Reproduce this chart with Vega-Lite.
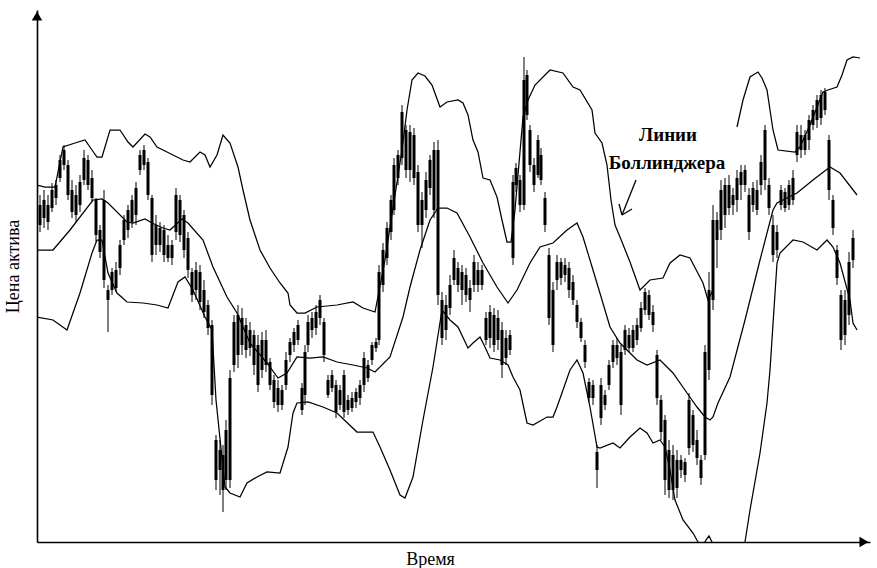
{
  "$schema": "https://vega.github.io/schema/vega-lite/v6.json",
  "width": 833,
  "height": 532,
  "autosize": {"type": "none"},
  "padding": {"left": 37, "top": 10, "right": 7, "bottom": 26},
  "background": "white",
  "config": {
    "view": {"stroke": null},
    "axis": {"grid": false, "labels": false, "ticks": false, "domainColor": "black", "domainWidth": 1.6, "titleFont": "'Liberation Serif', 'Times New Roman', serif", "titleFontSize": 18, "titleFontWeight": "normal", "titleColor": "black"}
  },
  "datasets": {
    "candles": [
      {"t":3,"h":347,"l":310,"o":317,"c":337},{"t":7,"h":352,"l":314,"o":324,"c":342},{"t":11,"h":347,"l":312,"o":337,"c":320},{"t":15,"h":359,"l":330,"o":334,"c":352},{"t":19,"h":362,"l":337,"o":344,"c":357},{"t":23,"h":387,"l":360,"o":364,"c":382},{"t":27,"h":397,"l":372,"o":377,"c":392},{"t":31,"h":382,"l":342,"o":377,"c":347},{"t":35,"h":362,"l":324,"o":352,"c":330},{"t":39,"h":357,"l":320,"o":327,"c":347},{"t":43,"h":367,"l":330,"o":337,"c":360},{"t":47,"h":392,"l":357,"o":362,"c":384},{"t":51,"h":387,"l":352,"o":382,"c":357},{"t":55,"h":372,"l":340,"o":364,"c":344},{"t":59,"h":344,"l":300,"o":342,"c":307},{"t":63,"h":317,"l":284,"o":312,"c":290},{"t":67,"h":352,"l":254,"o":342,"c":262},{"t":71,"h":257,"l":210,"o":252,"c":242},{"t":75,"h":274,"l":247,"o":252,"c":270},{"t":79,"h":280,"l":250,"o":272,"c":254},{"t":83,"h":302,"l":267,"o":274,"c":297},{"t":87,"h":327,"l":297,"o":302,"c":322},{"t":91,"h":337,"l":304,"o":312,"c":332},{"t":95,"h":347,"l":314,"o":320,"c":342},{"t":99,"h":360,"l":317,"o":327,"c":354},{"t":103,"h":392,"l":367,"o":372,"c":387},{"t":107,"h":397,"l":372,"o":392,"c":377},{"t":111,"h":384,"l":342,"o":380,"c":347},{"t":115,"h":347,"l":280,"o":344,"c":287},{"t":119,"h":327,"l":287,"o":317,"c":297},{"t":123,"h":320,"l":290,"o":297,"c":314},{"t":127,"h":317,"l":280,"o":312,"c":287},{"t":131,"h":307,"l":280,"o":297,"c":284},{"t":135,"h":302,"l":277,"o":284,"c":297},{"t":139,"h":354,"l":302,"o":310,"c":347},{"t":143,"h":347,"l":300,"o":342,"c":307},{"t":147,"h":332,"l":284,"o":327,"c":292},{"t":151,"h":310,"l":264,"o":304,"c":272},{"t":155,"h":274,"l":240,"o":270,"c":247},{"t":159,"h":280,"l":242,"o":252,"c":272},{"t":163,"h":277,"l":232,"o":270,"c":240},{"t":167,"h":262,"l":224,"o":252,"c":230},{"t":171,"h":242,"l":207,"o":237,"c":214},{"t":175,"h":222,"l":137,"o":217,"c":147},{"t":179,"h":107,"l":52,"o":102,"c":62},{"t":183,"h":102,"l":47,"o":72,"c":92},{"t":186,"h":97,"l":30,"o":87,"c":52},{"t":189,"h":122,"l":52,"o":62,"c":112},{"t":193,"h":172,"l":54,"o":62,"c":164},{"t":197,"h":227,"l":170,"o":177,"c":220},{"t":201,"h":237,"l":174,"o":227,"c":187},{"t":205,"h":234,"l":187,"o":197,"c":224},{"t":209,"h":224,"l":184,"o":217,"c":192},{"t":213,"h":220,"l":186,"o":194,"c":212},{"t":217,"h":212,"l":167,"o":207,"c":177},{"t":221,"h":207,"l":150,"o":197,"c":157},{"t":225,"h":210,"l":164,"o":172,"c":202},{"t":229,"h":212,"l":170,"o":202,"c":177},{"t":233,"h":184,"l":152,"o":180,"c":157},{"t":237,"h":167,"l":134,"o":162,"c":140},{"t":241,"h":162,"l":130,"o":137,"c":154},{"t":245,"h":157,"l":132,"o":152,"c":137},{"t":249,"h":190,"l":152,"o":157,"c":182},{"t":253,"h":204,"l":180,"o":187,"c":200},{"t":257,"h":214,"l":190,"o":197,"c":210},{"t":261,"h":222,"l":197,"o":217,"c":202},{"t":265,"h":159,"l":127,"o":154,"c":132},{"t":268,"h":197,"l":137,"o":147,"c":190},{"t":271,"h":227,"l":190,"o":197,"c":220},{"t":275,"h":230,"l":204,"o":212,"c":224},{"t":279,"h":237,"l":207,"o":230,"c":214},{"t":283,"h":247,"l":217,"o":224,"c":242},{"t":287,"h":224,"l":180,"o":220,"c":187},{"t":291,"h":167,"l":144,"o":162,"c":147},{"t":295,"h":172,"l":150,"o":154,"c":167},{"t":299,"h":162,"l":124,"o":157,"c":130},{"t":303,"h":157,"l":132,"o":137,"c":152},{"t":307,"h":172,"l":124,"o":167,"c":130},{"t":311,"h":147,"l":127,"o":132,"c":142},{"t":315,"h":150,"l":130,"o":144,"c":134},{"t":319,"h":154,"l":134,"o":140,"c":150},{"t":323,"h":162,"l":137,"o":144,"c":157},{"t":327,"h":190,"l":150,"o":157,"c":184},{"t":331,"h":182,"l":160,"o":164,"c":177},{"t":335,"h":200,"l":177,"o":182,"c":197},{"t":339,"h":204,"l":190,"o":194,"c":200},{"t":342,"h":277,"l":197,"o":202,"c":270},{"t":346,"h":299,"l":250,"o":257,"c":292},{"t":350,"h":320,"l":277,"o":284,"c":314},{"t":354,"h":347,"l":302,"o":310,"c":342},{"t":357,"h":384,"l":327,"o":332,"c":377},{"t":361,"h":392,"l":357,"o":364,"c":387},{"t":365,"h":437,"l":377,"o":384,"c":430},{"t":369,"h":417,"l":364,"o":412,"c":372},{"t":373,"h":417,"l":360,"o":372,"c":410},{"t":377,"h":414,"l":357,"o":407,"c":364},{"t":381,"h":377,"l":310,"o":370,"c":317},{"t":385,"h":350,"l":294,"o":317,"c":342},{"t":389,"h":370,"l":324,"o":332,"c":362},{"t":393,"h":387,"l":347,"o":382,"c":354},{"t":397,"h":400,"l":324,"o":392,"c":332},{"t":401,"h":402,"l":237,"o":392,"c":247},{"t":405,"h":250,"l":197,"o":242,"c":204},{"t":409,"h":247,"l":202,"o":212,"c":237},{"t":413,"h":267,"l":227,"o":257,"c":234},{"t":417,"h":292,"l":257,"o":262,"c":284},{"t":421,"h":280,"l":250,"o":274,"c":257},{"t":425,"h":277,"l":237,"o":252,"c":270},{"t":429,"h":274,"l":240,"o":267,"c":247},{"t":433,"h":262,"l":230,"o":242,"c":254},{"t":437,"h":287,"l":250,"o":257,"c":280},{"t":441,"h":280,"l":250,"o":272,"c":257},{"t":445,"h":277,"l":252,"o":257,"c":272},{"t":449,"h":230,"l":197,"o":224,"c":202},{"t":453,"h":237,"l":194,"o":204,"c":230},{"t":457,"h":234,"l":190,"o":227,"c":197},{"t":461,"h":232,"l":192,"o":202,"c":224},{"t":465,"h":220,"l":164,"o":212,"c":177},{"t":469,"h":212,"l":177,"o":184,"c":204},{"t":473,"h":212,"l":187,"o":207,"c":192},{"t":476,"h":367,"l":277,"o":284,"c":360},{"t":479,"h":379,"l":350,"o":357,"c":374},{"t":483,"h":367,"l":330,"o":362,"c":337},{"t":487,"h":485,"l":332,"o":337,"c":462},{"t":490,"h":472,"l":422,"o":467,"c":427},{"t":493,"h":417,"l":370,"o":412,"c":377},{"t":497,"h":384,"l":350,"o":377,"c":357},{"t":501,"h":407,"l":364,"o":367,"c":402},{"t":504,"h":394,"l":357,"o":387,"c":362},{"t":508,"h":350,"l":310,"o":344,"c":317},{"t":512,"h":294,"l":217,"o":287,"c":224},{"t":516,"h":260,"l":190,"o":252,"c":197},{"t":520,"h":287,"l":252,"o":262,"c":280},{"t":524,"h":284,"l":257,"o":280,"c":264},{"t":528,"h":284,"l":260,"o":267,"c":277},{"t":532,"h":280,"l":244,"o":274,"c":252},{"t":536,"h":267,"l":237,"o":260,"c":242},{"t":540,"h":242,"l":214,"o":237,"c":220},{"t":544,"h":224,"l":200,"o":220,"c":204},{"t":548,"h":202,"l":174,"o":197,"c":180},{"t":552,"h":164,"l":140,"o":160,"c":144},{"t":556,"h":162,"l":137,"o":144,"c":157},{"t":560,"h":97,"l":54,"o":90,"c":72},{"t":564,"h":164,"l":117,"o":124,"c":157},{"t":568,"h":152,"l":132,"o":147,"c":137},{"t":572,"h":182,"l":152,"o":157,"c":177},{"t":576,"h":202,"l":174,"o":180,"c":197},{"t":580,"h":204,"l":177,"o":197,"c":184},{"t":584,"h":197,"l":127,"o":190,"c":137},{"t":588,"h":217,"l":187,"o":192,"c":212},{"t":592,"h":214,"l":190,"o":207,"c":194},{"t":596,"h":217,"l":190,"o":194,"c":212},{"t":600,"h":224,"l":197,"o":217,"c":202},{"t":604,"h":240,"l":210,"o":214,"c":234},{"t":608,"h":254,"l":227,"o":232,"c":250},{"t":612,"h":252,"l":222,"o":247,"c":227},{"t":616,"h":237,"l":210,"o":230,"c":217},{"t":620,"h":192,"l":137,"o":187,"c":144},{"t":624,"h":147,"l":102,"o":142,"c":110},{"t":628,"h":127,"l":47,"o":122,"c":62},{"t":632,"h":102,"l":44,"o":92,"c":52},{"t":636,"h":97,"l":42,"o":52,"c":87},{"t":640,"h":92,"l":44,"o":82,"c":54},{"t":644,"h":87,"l":64,"o":72,"c":82},{"t":648,"h":84,"l":60,"o":80,"c":67},{"t":652,"h":149,"l":87,"o":94,"c":142},{"t":656,"h":132,"l":90,"o":127,"c":97},{"t":660,"h":112,"l":77,"o":102,"c":84},{"t":664,"h":87,"l":57,"o":82,"c":64},{"t":668,"h":197,"l":82,"o":87,"c":190},{"t":672,"h":270,"l":162,"o":172,"c":252},{"t":676,"h":337,"l":232,"o":242,"c":322},{"t":680,"h":330,"l":274,"o":302,"c":322},{"t":684,"h":362,"l":302,"o":312,"c":352},{"t":688,"h":364,"l":314,"o":327,"c":357},{"t":692,"h":367,"l":327,"o":357,"c":334},{"t":696,"h":354,"l":327,"o":337,"c":347},{"t":700,"h":372,"l":330,"o":342,"c":364},{"t":704,"h":377,"l":342,"o":357,"c":370},{"t":708,"h":377,"l":350,"o":372,"c":357},{"t":712,"h":354,"l":302,"o":347,"c":310},{"t":716,"h":360,"l":330,"o":337,"c":354},{"t":720,"h":362,"l":327,"o":352,"c":332},{"t":724,"h":387,"l":347,"o":357,"c":380},{"t":728,"h":417,"l":352,"o":362,"c":412},{"t":732,"h":364,"l":327,"o":357,"c":334},{"t":736,"h":327,"l":280,"o":317,"c":287},{"t":740,"h":317,"l":284,"o":292,"c":310},{"t":744,"h":357,"l":332,"o":337,"c":352},{"t":748,"h":354,"l":330,"o":350,"c":334},{"t":752,"h":362,"l":332,"o":337,"c":357},{"t":756,"h":372,"l":337,"o":364,"c":342},{"t":760,"h":417,"l":380,"o":387,"c":410},{"t":764,"h":417,"l":384,"o":407,"c":392},{"t":768,"h":412,"l":387,"o":392,"c":407},{"t":772,"h":427,"l":392,"o":402,"c":422},{"t":776,"h":437,"l":412,"o":417,"c":432},{"t":780,"h":447,"l":414,"o":422,"c":442},{"t":784,"h":452,"l":417,"o":447,"c":424},{"t":788,"h":454,"l":427,"o":432,"c":450},{"t":792,"h":407,"l":342,"o":402,"c":352},{"t":796,"h":347,"l":307,"o":342,"c":314},{"t":800,"h":297,"l":257,"o":292,"c":264},{"t":804,"h":252,"l":192,"o":247,"c":202},{"t":808,"h":252,"l":197,"o":242,"c":207},{"t":812,"h":290,"l":217,"o":227,"c":280},{"t":816,"h":312,"l":274,"o":282,"c":304}
    ],
    "bands": [
      {"b":"U1","t":0,"p":357},{"b":"U1","t":8,"p":355},{"b":"U1","t":18,"p":355},{"b":"U1","t":26,"p":395},{"b":"U1","t":38,"p":399},{"b":"U1","t":48,"p":402},{"b":"U1","t":55,"p":392},{"b":"U1","t":60,"p":385},{"b":"U1","t":65,"p":385},{"b":"U1","t":73,"p":412},{"b":"U1","t":83,"p":412},{"b":"U1","t":91,"p":400},{"b":"U1","t":96,"p":395},{"b":"U1","t":108,"p":408},{"b":"U1","t":113,"p":405},{"b":"U1","t":120,"p":395},{"b":"U1","t":130,"p":390},{"b":"U1","t":146,"p":382},{"b":"U1","t":153,"p":380},{"b":"U1","t":163,"p":390},{"b":"U1","t":168,"p":387},{"b":"U1","t":173,"p":375},{"b":"U1","t":180,"p":387},{"b":"U1","t":186,"p":407},{"b":"U1","t":193,"p":399},{"b":"U1","t":201,"p":375},{"b":"U1","t":206,"p":352},{"b":"U1","t":213,"p":322},{"b":"U1","t":223,"p":292},{"b":"U1","t":233,"p":274},{"b":"U1","t":243,"p":259},{"b":"U1","t":251,"p":249},{"b":"U1","t":253,"p":237},{"b":"U1","t":260,"p":229},{"b":"U1","t":268,"p":229},{"b":"U1","t":280,"p":235},{"b":"U1","t":300,"p":237},{"b":"U1","t":316,"p":240},{"b":"U1","t":326,"p":234},{"b":"U1","t":338,"p":230},{"b":"U1","t":348,"p":282},{"b":"U1","t":358,"p":347},{"b":"U1","t":365,"p":392},{"b":"U1","t":370,"p":432},{"b":"U1","t":375,"p":462},{"b":"U1","t":381,"p":469},{"b":"U1","t":388,"p":466},{"b":"U1","t":395,"p":457},{"b":"U1","t":403,"p":435},{"b":"U1","t":410,"p":440},{"b":"U1","t":421,"p":442},{"b":"U1","t":426,"p":439},{"b":"U1","t":431,"p":427},{"b":"U1","t":436,"p":402},{"b":"U1","t":441,"p":390},{"b":"U1","t":446,"p":364},{"b":"U1","t":453,"p":362},{"b":"U1","t":460,"p":345},{"b":"U1","t":465,"p":322},{"b":"U1","t":470,"p":300},{"b":"U1","t":474,"p":300},{"b":"U1","t":478,"p":332},{"b":"U1","t":481,"p":367},{"b":"U1","t":486,"p":425},{"b":"U1","t":491,"p":442},{"b":"U1","t":498,"p":457},{"b":"U1","t":513,"p":472},{"b":"U1","t":526,"p":469},{"b":"U1","t":536,"p":455},{"b":"U1","t":543,"p":452},{"b":"U1","t":555,"p":432},{"b":"U1","t":558,"p":409},{"b":"U1","t":565,"p":399},{"b":"U1","t":570,"p":377},{"b":"U1","t":574,"p":342},{"b":"U1","t":578,"p":317},{"b":"U1","t":583,"p":305},{"b":"U1","t":593,"p":280},{"b":"U1","t":603,"p":252},{"b":"U1","t":613,"p":262},{"b":"U1","t":626,"p":264},{"b":"U1","t":633,"p":279},{"b":"U1","t":643,"p":287},{"b":"U1","t":653,"p":284},{"b":"U1","t":666,"p":259},{"b":"U1","t":671,"p":242},{"b":"U1","t":676,"p":252},
      {"b":"U2","t":700,"p":415},{"b":"U2","t":706,"p":442},{"b":"U2","t":713,"p":465},{"b":"U2","t":721,"p":470},{"b":"U2","t":725,"p":464},{"b":"U2","t":730,"p":452},{"b":"U2","t":736,"p":412},{"b":"U2","t":741,"p":392},{"b":"U2","t":758,"p":390},{"b":"U2","t":763,"p":395},{"b":"U2","t":773,"p":417},{"b":"U2","t":786,"p":450},{"b":"U2","t":791,"p":452},{"b":"U2","t":800,"p":455},{"b":"U2","t":805,"p":467},{"b":"U2","t":810,"p":482},{"b":"U2","t":816,"p":485},{"b":"U2","t":823,"p":484},
      {"b":"M","t":0,"p":292},{"b":"M","t":16,"p":292},{"b":"M","t":33,"p":312},{"b":"M","t":56,"p":342},{"b":"M","t":65,"p":343},{"b":"M","t":71,"p":339},{"b":"M","t":90,"p":320},{"b":"M","t":96,"p":319},{"b":"M","t":108,"p":323},{"b":"M","t":115,"p":319},{"b":"M","t":126,"p":314},{"b":"M","t":133,"p":312},{"b":"M","t":145,"p":323},{"b":"M","t":151,"p":319},{"b":"M","t":166,"p":302},{"b":"M","t":176,"p":275},{"b":"M","t":190,"p":245},{"b":"M","t":200,"p":229},{"b":"M","t":213,"p":199},{"b":"M","t":230,"p":179},{"b":"M","t":241,"p":164},{"b":"M","t":250,"p":169},{"b":"M","t":260,"p":185},{"b":"M","t":273,"p":184},{"b":"M","t":286,"p":185},{"b":"M","t":300,"p":180},{"b":"M","t":316,"p":177},{"b":"M","t":330,"p":174},{"b":"M","t":338,"p":170},{"b":"M","t":353,"p":185},{"b":"M","t":366,"p":225},{"b":"M","t":373,"p":255},{"b":"M","t":383,"p":292},{"b":"M","t":393,"p":322},{"b":"M","t":401,"p":334},{"b":"M","t":410,"p":334},{"b":"M","t":420,"p":329},{"b":"M","t":433,"p":305},{"b":"M","t":446,"p":279},{"b":"M","t":460,"p":255},{"b":"M","t":471,"p":239},{"b":"M","t":480,"p":252},{"b":"M","t":493,"p":279},{"b":"M","t":503,"p":295},{"b":"M","t":516,"p":299},{"b":"M","t":530,"p":312},{"b":"M","t":540,"p":319},{"b":"M","t":546,"p":305},{"b":"M","t":556,"p":272},{"b":"M","t":565,"p":242},{"b":"M","t":573,"p":215},{"b":"M","t":583,"p":199},{"b":"M","t":600,"p":182},{"b":"M","t":610,"p":177},{"b":"M","t":623,"p":182},{"b":"M","t":636,"p":169},{"b":"M","t":650,"p":149},{"b":"M","t":660,"p":135},{"b":"M","t":668,"p":125},{"b":"M","t":673,"p":122},{"b":"M","t":676,"p":125},{"b":"M","t":681,"p":139},{"b":"M","t":693,"p":165},{"b":"M","t":708,"p":222},{"b":"M","t":723,"p":282},{"b":"M","t":736,"p":332},{"b":"M","t":740,"p":339},{"b":"M","t":760,"p":349},{"b":"M","t":776,"p":362},{"b":"M","t":793,"p":375},{"b":"M","t":803,"p":369},{"b":"M","t":820,"p":347},
      {"b":"L","t":0,"p":225},{"b":"L","t":16,"p":222},{"b":"L","t":30,"p":212},{"b":"L","t":43,"p":249},{"b":"L","t":55,"p":289},{"b":"L","t":60,"p":302},{"b":"L","t":65,"p":302},{"b":"L","t":71,"p":269},{"b":"L","t":80,"p":249},{"b":"L","t":90,"p":240},{"b":"L","t":106,"p":239},{"b":"L","t":120,"p":237},{"b":"L","t":131,"p":234},{"b":"L","t":141,"p":260},{"b":"L","t":148,"p":265},{"b":"L","t":156,"p":252},{"b":"L","t":168,"p":225},{"b":"L","t":175,"p":212},{"b":"L","t":179,"p":142},{"b":"L","t":188,"p":55},{"b":"L","t":193,"p":49},{"b":"L","t":203,"p":45},{"b":"L","t":210,"p":59},{"b":"L","t":220,"p":65},{"b":"L","t":230,"p":70},{"b":"L","t":243,"p":69},{"b":"L","t":251,"p":95},{"b":"L","t":256,"p":129},{"b":"L","t":260,"p":139},{"b":"L","t":271,"p":140},{"b":"L","t":286,"p":135},{"b":"L","t":300,"p":129},{"b":"L","t":320,"p":110},{"b":"L","t":336,"p":110},{"b":"L","t":343,"p":95},{"b":"L","t":353,"p":72},{"b":"L","t":363,"p":47},{"b":"L","t":368,"p":44},{"b":"L","t":376,"p":65},{"b":"L","t":386,"p":122},{"b":"L","t":396,"p":175},{"b":"L","t":405,"p":232},{"b":"L","t":413,"p":222},{"b":"L","t":421,"p":215},{"b":"L","t":431,"p":194},{"b":"L","t":436,"p":199},{"b":"L","t":443,"p":205},{"b":"L","t":448,"p":195},{"b":"L","t":453,"p":184},{"b":"L","t":463,"p":182},{"b":"L","t":471,"p":177},{"b":"L","t":476,"p":165},{"b":"L","t":483,"p":152},{"b":"L","t":490,"p":119},{"b":"L","t":496,"p":117},{"b":"L","t":510,"p":125},{"b":"L","t":516,"p":125},{"b":"L","t":520,"p":135},{"b":"L","t":526,"p":152},{"b":"L","t":533,"p":172},{"b":"L","t":540,"p":182},{"b":"L","t":546,"p":169},{"b":"L","t":553,"p":135},{"b":"L","t":560,"p":95},{"b":"L","t":563,"p":94},{"b":"L","t":576,"p":99},{"b":"L","t":583,"p":94},{"b":"L","t":593,"p":105},{"b":"L","t":603,"p":114},{"b":"L","t":610,"p":109},{"b":"L","t":616,"p":99},{"b":"L","t":623,"p":102},{"b":"L","t":628,"p":95},{"b":"L","t":633,"p":72},{"b":"L","t":638,"p":42},{"b":"L","t":646,"p":22},{"b":"L","t":656,"p":9},{"b":"L","t":661,"p":0},{"b":"L","t":665,"p":-5},{"b":"L","t":669,"p":2},{"b":"L","t":672,"p":6},{"b":"L","t":675,"p":0},{"b":"L","t":679,"p":-8},{"b":"L","t":693,"p":-28},{"b":"L","t":703,"p":-13},{"b":"L","t":708,"p":0},{"b":"L","t":713,"p":32},{"b":"L","t":723,"p":89},{"b":"L","t":730,"p":139},{"b":"L","t":733,"p":172},{"b":"L","t":740,"p":279},{"b":"L","t":743,"p":289},{"b":"L","t":756,"p":302},{"b":"L","t":766,"p":300},{"b":"L","t":780,"p":292},{"b":"L","t":790,"p":302},{"b":"L","t":796,"p":295},{"b":"L","t":803,"p":279},{"b":"L","t":813,"p":242},{"b":"L","t":816,"p":219},{"b":"L","t":820,"p":212}
    ],
    "pointer": [
      {"x1":599,"y1":362,"x2":585,"y2":327},
      {"x1":585,"y1":327,"x2":582,"y2":338},
      {"x1":585,"y1":327,"x2":595,"y2":333}
    ]
  },
  "layer": [
    {
      "data": {"name": "bands"},
      "mark": {"type": "line", "color": "black", "strokeWidth": 1.25, "clip": true},
      "encoding": {
        "x": {"field": "t", "type": "quantitative", "scale": {"domain": [0, 833], "nice": false, "zero": false, "padding": 0}, "axis": {"title": "Время", "titleX": 393, "titleY": 22, "titleAlign": "center", "titleBaseline": "alphabetic", "titleAnchor": null}},
        "y": {"field": "p", "type": "quantitative", "scale": {"domain": [0, 532], "nice": false, "zero": false, "padding": 0}, "axis": {"title": "Цена актива", "titleX": -24, "titleY": 256, "titleAngle": -90, "titleAlign": "center", "titleBaseline": "middle"}},
        "detail": {"field": "b"}
      }
    },
    {
      "data": {"name": "candles"},
      "mark": {"type": "rule", "color": "black", "strokeWidth": 1},
      "encoding": {
        "x": {"field": "t", "type": "quantitative", "scale": {"domain": [0, 833], "nice": false, "zero": false, "padding": 0}},
        "y": {"field": "l", "type": "quantitative", "scale": {"domain": [0, 532], "nice": false, "zero": false, "padding": 0}},
        "y2": {"field": "h"}
      }
    },
    {
      "data": {"name": "candles"},
      "mark": {"type": "bar", "color": "black", "size": 3},
      "encoding": {
        "x": {"field": "t", "type": "quantitative", "scale": {"domain": [0, 833], "nice": false, "zero": false, "padding": 0}},
        "y": {"field": "o", "type": "quantitative", "scale": {"domain": [0, 532], "nice": false, "zero": false, "padding": 0}},
        "y2": {"field": "c"}
      }
    },
    {
      "data": {"name": "pointer"},
      "mark": {"type": "rule", "color": "black", "strokeWidth": 1.3},
      "encoding": {
        "x": {"field": "x1", "type": "quantitative", "scale": {"domain": [0, 833], "nice": false, "zero": false, "padding": 0}},
        "y": {"field": "y1", "type": "quantitative", "scale": {"domain": [0, 532], "nice": false, "zero": false, "padding": 0}},
        "x2": {"field": "x2"},
        "y2": {"field": "y2"}
      }
    },
    {
      "data": {"values": [{"label": "Линии", "tx": 631, "ty": 401}, {"label": "Боллинджера", "tx": 630, "ty": 373}]},
      "mark": {"type": "text", "font": "'Liberation Serif', 'Times New Roman', serif", "fontSize": 19, "fontWeight": "bold", "color": "black", "align": "center", "baseline": "alphabetic"},
      "encoding": {
        "x": {"field": "tx", "type": "quantitative", "scale": {"domain": [0, 833], "nice": false, "zero": false, "padding": 0}},
        "y": {"field": "ty", "type": "quantitative", "scale": {"domain": [0, 532], "nice": false, "zero": false, "padding": 0}},
        "text": {"field": "label"}
      }
    },
    {
      "data": {"values": [{"ax": 0, "ay": 526, "s": "triangle-up"}, {"ax": 827, "ay": 0, "s": "triangle-right"}]},
      "mark": {"type": "point", "filled": true, "color": "black", "size": 110, "opacity": 1},
      "encoding": {
        "x": {"field": "ax", "type": "quantitative", "scale": {"domain": [0, 833], "nice": false, "zero": false, "padding": 0}},
        "y": {"field": "ay", "type": "quantitative", "scale": {"domain": [0, 532], "nice": false, "zero": false, "padding": 0}},
        "shape": {"field": "s", "type": "nominal", "scale": {"domain": ["triangle-up", "triangle-right"], "range": ["triangle-up", "triangle-right"]}, "legend": null}
      }
    }
  ]
}
